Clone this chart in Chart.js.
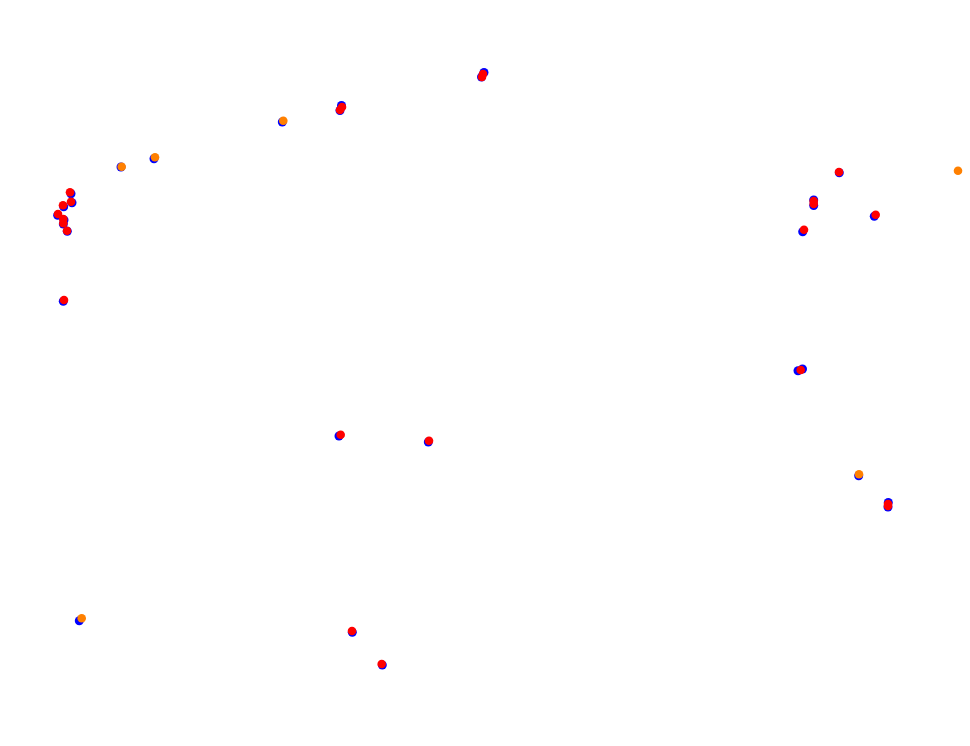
<!DOCTYPE html>
<html>
<head>
<meta charset="utf-8">
<script src="https://cdn.jsdelivr.net/npm/chart.js@4/dist/chart.umd.min.js"></script>
<style>
html,body{margin:0;padding:0;background:#fff;}
#wrap{width:970px;height:746px;position:relative;}
</style>
</head>
<body>
<div id="wrap"><canvas id="c"></canvas></div>
<script>
const blueX = [154,121,71,72,63.7,57.7,64,63.3,67.3,63.3,282.3,341.5,340,484,481.5,839.3,813.7,813.7,874.3,802.7,798,802.5,339,428.3,858.7,888.3,888,79.3,352.3,382.3];
const blueY = [158.7,167,193.7,202.7,206.7,215.3,220,224,231.3,301.3,122,105.5,110.5,72.5,77,172.7,200,205.5,216.3,231.7,370.7,369,436,442,475.7,502.5,507,620.7,632.3,665];
const orangeX = [155,121.7,283.3,958,859,81.7];
const orangeY = [157.3,166.7,120.7,170.7,474.3,618.3];
const redX = [70,71,63,58,63.3,63.3,67,64,342,340,483,482,839,813.7,813.7,875.7,804,800.7,340.7,429,888,888,352,381.7];
const redY = [192.3,201.7,205.3,214,219,223.3,230.7,300,107,110,74,77,172,201,204,214.7,229.7,370,434.7,440.7,504,506,631,664];

function pts(xs, ys){ return xs.map((x,i)=>({x:x,y:ys[i]})); }

new Chart(document.getElementById('c'), {
  type: 'scatter',
  data: {
    datasets: [
      {data: pts(blueX, blueY), backgroundColor:'#0000ff', borderColor:'#0000ff', pointRadius:4.5, borderWidth:0, order:3},
      {data: pts(orangeX, orangeY), backgroundColor:'#ff8000', borderColor:'#ff8000', pointRadius:4.3, borderWidth:0, order:2},
      {data: pts(redX, redY), backgroundColor:'#ff0000', borderColor:'#ff0000', pointRadius:4.3, borderWidth:0, order:1}
    ]
  },
  options: {
    responsive:true, maintainAspectRatio:false, animation:false,
    layout:{padding:0, autoPadding:false},
    clip:false,
    plugins:{legend:{display:false}, tooltip:{enabled:false}},
    scales:{
      x:{type:'linear', display:false, min:0, max:970},
      y:{type:'linear', display:false, min:0, max:746, reverse:true}
    }
  }
});
</script>
</body>
</html>
